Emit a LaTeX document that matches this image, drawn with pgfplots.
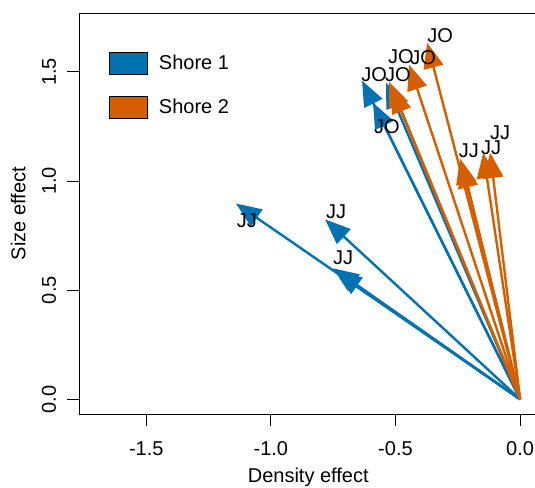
\documentclass[border=0pt]{standalone}
\usepackage{fontspec}
\setmainfont{Liberation Sans}
\usepackage{pgfplots}
\pgfplotsset{compat=1.18}
\usetikzlibrary{arrows.meta}
\definecolor{cblue}{HTML}{0072B2}
\definecolor{corange}{HTML}{D55E00}
\begin{document}
\begin{tikzpicture}[font=\fontsize{15}{18}\selectfont]
\begin{axis}[
 scale only axis, width=343.1pt, height=300.4pt,
 xmin=-1.768, xmax=0.068, ymin=-0.068, ymax=1.768,
 axis lines*=left, clip=false,
 axis line style={line width=0.75pt},
 tick align=outside, major tick length=9pt,
 tick style={black, line width=0.75pt},
 xtick={-1.5,-1,-0.5,0}, xticklabels={-1.5,-1.0,-0.5,0.0},
 ytick={0,0.5,1,1.5}, yticklabels={0.0,0.5,1.0,1.5},
 xticklabel shift=8pt, yticklabel shift=5pt,
 yticklabel style={rotate=90, anchor=south},
 xlabel={Density effect}, ylabel={Size effect},
 xlabel style={at={(axis description cs:0.5,-0.157)}, anchor=center},
 ylabel style={at={(axis description cs:-0.134,0.5)}, anchor=center},
 legend style={draw=none, fill=none, at={(axis description cs:0.0645,0.905)},
   anchor=north west, inner sep=0pt, row sep=16pt,
   /tikz/every odd column/.append style={column sep=6pt}},
 legend cell align=left,
 legend image code/.code={\draw[#1] (0pt,-8.25pt) rectangle (28.5pt,8.25pt);},
 arr/.style={line width=1.8pt, -{Triangle[length=19pt,width=15pt]}, forget plot},
]
\addlegendimage{fill=cblue, draw=black, line width=0.75pt}
\addlegendimage{fill=corange, draw=black, line width=0.75pt}
\legend{Shore 1, Shore 2}
% Shore 1
\addplot[arr, cblue] coordinates {(0,0) (-1.140,0.897)};
\addplot[arr, cblue] coordinates {(0,0) (-0.782,0.824)};
\addplot[arr, cblue] coordinates {(0,0) (-0.750,0.600)};
\addplot[arr, cblue] coordinates {(0,0) (-0.738,0.586)};
\addplot[arr, cblue] coordinates {(0,0) (-0.590,1.359)};
\addplot[arr, cblue] coordinates {(0,0) (-0.634,1.460)};
\addplot[arr, cblue] coordinates {(0,0) (-0.538,1.451)};
% Shore 2
\addplot[arr, corange] coordinates {(0,0) (-0.514,1.428)};
\addplot[arr, corange] coordinates {(0,0) (-0.526,1.455)};
\addplot[arr, corange] coordinates {(0,0) (-0.445,1.533)};
\addplot[arr, corange] coordinates {(0,0) (-0.373,1.634)};
\addplot[arr, corange] coordinates {(0,0) (-0.233,1.085)};
\addplot[arr, corange] coordinates {(0,0) (-0.241,1.103)};
\addplot[arr, corange] coordinates {(0,0) (-0.148,1.130)};
\addplot[arr, corange] coordinates {(0,0) (-0.120,1.130)};
% labels
\addplot[only marks, mark=none, nodes near coords, point meta=explicit symbolic,
  nodes near coords style={anchor=center, black}, forget plot]
  table[meta=lab] {
x y lab
-0.586 1.487 JO
-0.490 1.487 JO
-0.478 1.570 JO
-0.389 1.565 JO
-0.321 1.666 JO
-0.534 1.249 JO
-1.096 0.819 JJ
-0.738 0.860 JJ
-0.710 0.650 JJ
-0.205 1.140 JJ
-0.116 1.153 JJ
-0.080 1.222 JJ
};
\draw[line width=0.75pt] (rel axis cs:0,1) -- (rel axis cs:1,1);
\end{axis}
\pgfresetboundingbox
\useasboundingbox (-59.6pt,-54.75pt) rectangle (341.6pt,310.5pt);
\end{tikzpicture}
\end{document}
